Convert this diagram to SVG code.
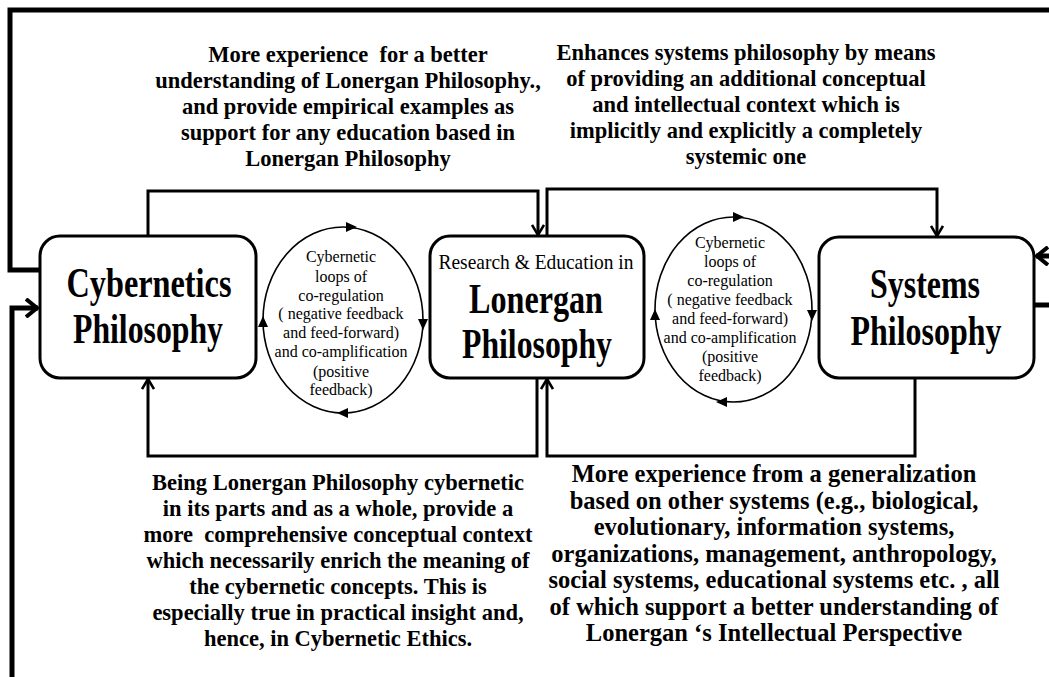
<svg xmlns="http://www.w3.org/2000/svg" width="1049" height="677" viewBox="0 0 1049 677">
<defs>
<style>
.box{fill:#fff;stroke:#000;stroke-width:3}
.ell{fill:none;stroke:#000;stroke-width:1.6}
.con{fill:none;stroke:#000;stroke-width:3}
.outer{fill:none;stroke:#000;stroke-width:5}
.tri{fill:#000}
.big{font-family:"Liberation Serif","Times New Roman",serif;font-weight:bold;font-size:42px;text-anchor:middle;fill:#000}
.sub{font-family:"Liberation Serif","Times New Roman",serif;font-size:22px;text-anchor:middle;fill:#000}
.body{font-family:"Liberation Serif","Times New Roman",serif;font-weight:bold;font-size:22.5px;text-anchor:middle;fill:#000}
.body2{font-family:"Liberation Serif","Times New Roman",serif;font-weight:bold;font-size:24.5px;text-anchor:middle;fill:#000}
.loop{font-family:"Liberation Serif","Times New Roman",serif;font-size:16px;text-anchor:middle;fill:#000}
</style>
<marker id="chev" viewBox="0 0 12 14" refX="11" refY="7" markerWidth="12" markerHeight="14" markerUnits="userSpaceOnUse" orient="auto">
<path d="M1,1 L11,7 L1,13" fill="none" stroke="#000" stroke-width="2.6"/>
</marker>
<marker id="chevBig" viewBox="0 0 14 20" refX="13" refY="10" markerWidth="14" markerHeight="20" markerUnits="userSpaceOnUse" orient="auto">
<path d="M1,1 L12,10 L1,19" fill="none" stroke="#000" stroke-width="4"/>
</marker>
</defs>
<rect width="1049" height="677" fill="#fff"/>

<g id="connectors">
<polyline class="outer" points="1049,10 10,10 10,270 40,270"/>
<polyline class="outer" points="12,677 12,308 38,308" marker-end="url(#chevBig)"/>
<polyline class="outer" points="1049,256 1036,256" marker-end="url(#chevBig)"/>
<line class="outer" x1="1034" y1="305" x2="1049" y2="305"/>
<polyline class="con" points="148,236 148,191 538,191 538,235" marker-end="url(#chev)"/>
<polyline class="con" points="547,236 547,189 937,189 937,236" marker-end="url(#chev)"/>
<polyline class="con" points="537,378 537,456 148,456 148,379" marker-end="url(#chev)"/>
<polyline class="con" points="915,378 915,456 547,456 547,379" marker-end="url(#chev)"/>
</g>

<g id="node-cybernetics">
<rect class="box" x="40" y="236" width="216" height="142" rx="20"/>
<text class="big" x="149" y="297" textLength="165" lengthAdjust="spacingAndGlyphs">Cybernetics</text>
<text class="big" x="148" y="343" textLength="150" lengthAdjust="spacingAndGlyphs">Philosophy</text>
</g>

<g id="node-lonergan">
<rect class="box" x="430" y="236" width="214" height="142" rx="20"/>
<text class="sub" x="536" y="269" textLength="195" lengthAdjust="spacingAndGlyphs">Research &amp; Education in</text>
<text class="big" x="536" y="313" textLength="134" lengthAdjust="spacingAndGlyphs">Lonergan</text>
<text class="big" x="537" y="358" textLength="150" lengthAdjust="spacingAndGlyphs">Philosophy</text>
</g>

<g id="node-systems">
<rect class="box" x="819" y="237" width="215" height="141" rx="20"/>
<text class="big" x="925" y="298" textLength="110" lengthAdjust="spacingAndGlyphs">Systems</text>
<text class="big" x="926" y="345" textLength="151" lengthAdjust="spacingAndGlyphs">Philosophy</text>
</g>

<g id="node-loop-left">
<ellipse class="ell" cx="343" cy="320" rx="80" ry="93"/>
<polygon class="tri" points="357,227 346,222 346,232"/>
<polygon class="tri" points="423,330 418,319 428,319"/>
<polygon class="tri" points="337,413 348,408 348,418"/>
<polygon class="tri" points="263,316 258,327 268,327"/>
<text class="loop" x="341" y="262">Cybernetic</text>
<text class="loop" x="341" y="282">loops of</text>
<text class="loop" x="341" y="301">co-regulation</text>
<text class="loop" x="341" y="319">( negative feedback</text>
<text class="loop" x="341" y="338">and feed-forward)</text>
<text class="loop" x="341" y="357">and co-amplification</text>
<text class="loop" x="341" y="377">(positive</text>
<text class="loop" x="341" y="395">feedback)</text>
</g>

<g id="node-loop-right">
<ellipse class="ell" cx="733.5" cy="309.5" rx="78.5" ry="92.5"/>
<polygon class="tri" points="744,217 733,212 733,222"/>
<polygon class="tri" points="812,321 807,310 817,310"/>
<polygon class="tri" points="716,402 727,397 727,407"/>
<polygon class="tri" points="655,309 650,320 660,320"/>
<text class="loop" x="730" y="248">Cybernetic</text>
<text class="loop" x="730" y="267">loops of</text>
<text class="loop" x="730" y="286">co-regulation</text>
<text class="loop" x="730" y="305">( negative feedback</text>
<text class="loop" x="730" y="324">and feed-forward)</text>
<text class="loop" x="730" y="343">and co-amplification</text>
<text class="loop" x="730" y="362">(positive</text>
<text class="loop" x="730" y="381">feedback)</text>
</g>

<g id="label-top-left">
<text class="body" x="348" y="62" xml:space="preserve">More experience  for a better</text>
<text class="body" x="348" y="88">understanding of Lonergan Philosophy.,</text>
<text class="body" x="348" y="114">and provide empirical examples as</text>
<text class="body" x="348" y="140">support for any education based in</text>
<text class="body" x="348" y="166">Lonergan Philosophy</text>
</g>

<g id="label-top-right">
<text class="body" x="746" y="60">Enhances systems philosophy by means</text>
<text class="body" x="746" y="86">of providing an additional conceptual</text>
<text class="body" x="746" y="112">and intellectual context which is</text>
<text class="body" x="746" y="138">implicitly and explicitly a completely</text>
<text class="body" x="746" y="164">systemic one</text>
</g>

<g id="label-bottom-left">
<text class="body" x="338" y="490">Being Lonergan Philosophy cybernetic</text>
<text class="body" x="338" y="516">in its parts and as a whole, provide a</text>
<text class="body" x="338" y="542" xml:space="preserve">more  comprehensive conceptual context</text>
<text class="body" x="338" y="568">which necessarily enrich the meaning of</text>
<text class="body" x="338" y="594">the cybernetic concepts. This is</text>
<text class="body" x="338" y="620">especially true in practical insight and,</text>
<text class="body" x="338" y="646">hence, in Cybernetic Ethics.</text>
</g>

<g id="label-bottom-right">
<text class="body2" x="774" y="482">More experience from a generalization</text>
<text class="body2" x="774" y="508.5">based on other systems (e.g., biological,</text>
<text class="body2" x="774" y="535">evolutionary, information systems,</text>
<text class="body2" x="774" y="561.5">organizations, management, anthropology,</text>
<text class="body2" x="774" y="588">social systems, educational systems etc. , all</text>
<text class="body2" x="774" y="614.5">of which support a better understanding of</text>
<text class="body2" x="774" y="641">Lonergan ‘s Intellectual Perspective</text>
</g>
</svg>
